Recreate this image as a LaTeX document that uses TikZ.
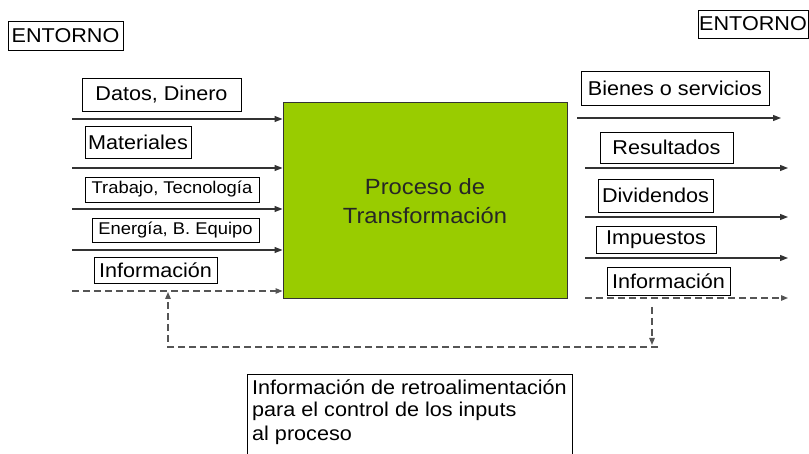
\documentclass[tikz,border=0pt]{standalone}
\usepackage{fontspec}
\setmainfont{Liberation Sans}[FakeStretch=1.08]
\usetikzlibrary{arrows.meta}
\definecolor{procgreen}{HTML}{99CC00}
\definecolor{linegray}{HTML}{333333}
\definecolor{dashgray}{HTML}{555555}
\begin{document}
\begin{tikzpicture}[x=1pt,y=-1pt,
  lbl/.style={draw=black,line width=0.9pt,inner sep=0pt,font=\fontsize{20}{24}\selectfont},
  lblsmall/.style={lbl,font=\fontsize{17}{20}\selectfont},
  flow/.style={draw=linegray,line width=1.3pt,-{Triangle[length=8pt,width=6pt]}},
  dflow/.style={draw=dashgray,line width=1.2pt,dash pattern=on 7pt off 4pt,-{Triangle[length=7pt,width=5.5pt]}},
  dline/.style={draw=dashgray,line width=1.2pt,dash pattern=on 7pt off 4pt},
  txt/.style={inner sep=0pt,font=\fontsize{20}{24}\selectfont,anchor=base west}]
\useasboundingbox (0,0) rectangle (809,454);
\fill[white] (0,0) rectangle (809,454);

% ENTORNO boxes
\node[lbl,minimum width=115pt,minimum height=29pt] (entL) at (65.5,35.5) {ENTORNO};
\node[lbl,minimum width=110pt,minimum height=28pt] (entR) at (753,24) {ENTORNO};

% central process
\node[draw=black!80,line width=1pt,fill=procgreen,minimum width=284pt,minimum height=196pt,
      inner sep=0pt,align=center,font=\fontsize{22}{29}\selectfont,text=black!85] (proc) at (425,201)
      {Proceso de\\Transformación};

% input labels
\node[lbl,minimum width=159pt,minimum height=33pt] (datos) at (161.5,94.5) {Datos, Dinero};
\node[lbl,minimum width=106pt,minimum height=32pt] (mat) at (138,142) {Materiales};
\node[lblsmall,minimum width=174pt,minimum height=25pt] (trab) at (172,189.5) {Trabajo, Tecnología};
\node[lblsmall,minimum width=167pt,minimum height=24pt] (ener) at (175.5,230) {Energía, B. Equipo};
\node[lbl,minimum width=123pt,minimum height=26pt] (infoL) at (155.5,270) {Información};

% output labels
\node[lbl,minimum width=188pt,minimum height=34pt] (bienes) at (675,88) {Bienes o servicios};
\node[lbl,minimum width=133pt,minimum height=31pt] (res) at (666.5,147.5) {Resultados};
\node[lbl,minimum width=115pt,minimum height=33pt] (div) at (655.5,195.5) {Dividendos};
\node[lbl,minimum width=120pt,minimum height=27pt] (imp) at (656,239.5) {Impuestos};
\node[lbl,minimum width=123pt,minimum height=28pt] (infoR) at (668.5,281) {Información};

% input arrows
\coordinate (i1) at (72,119);
\coordinate (i2) at (72,168);
\coordinate (i3) at (72,209);
\coordinate (i4) at (72,250);
\coordinate (i5) at (72,291);
\draw[flow] (i1) -- (proc.west |- i1);
\draw[flow] (i2) -- (proc.west |- i2);
\draw[flow] (i3) -- (proc.west |- i3);
\draw[flow] (i4) -- (proc.west |- i4);
\draw[dflow] (i5) -- (proc.west |- i5);

% output arrows
\coordinate (o1s) at (577,118);  \coordinate (o1) at (781,118);
\coordinate (o2s) at (585,168);  \coordinate (o2) at (788,168);
\coordinate (o3s) at (585,217);  \coordinate (o3) at (788,217);
\coordinate (o4s) at (585,258);  \coordinate (o4) at (788,258);
\coordinate (o5s) at (585,298);  \coordinate (o5) at (788,298);
\draw[flow] (o1s) -- (o1);
\draw[flow] (o2s) -- (o2);
\draw[flow] (o3s) -- (o3);
\draw[flow] (o4s) -- (o4);
\draw[dflow] (o5s) -- (o5);

% feedback loop
\coordinate (fbR) at (652,307);
\coordinate (fbRe) at (652,345);
\coordinate (fbBR) at (658,347);
\coordinate (fbBL) at (168,347);
\coordinate (fbL) at (168,292);
\draw[dflow] (fbR) -- (fbRe);
\draw[dflow] (fbBR) -- (fbBL) -- (fbL);

% feedback description box
\draw[black,line width=0.9pt] (247,456) -- (247,374) -- (572,374) -- (572,456);
\node[txt] (r1) at (252,395) {Información de retroalimentación};
\node[txt] (r2) at (252,417) {para el control de los inputs};
\node[txt] (r3) at (252,440) {al proceso};
\end{tikzpicture}
\end{document}
